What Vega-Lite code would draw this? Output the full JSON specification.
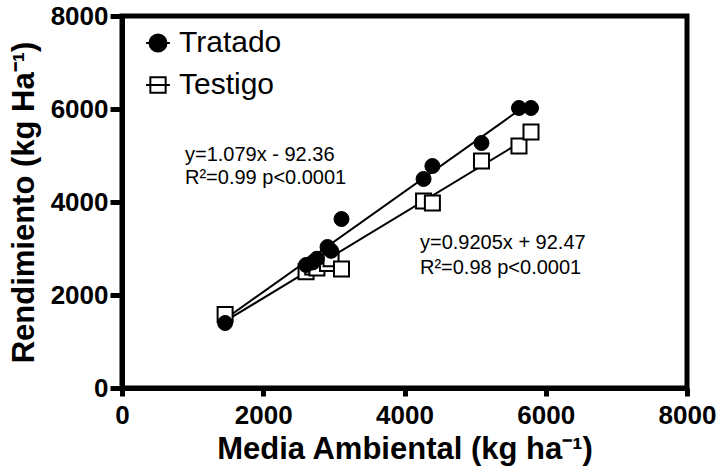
{
  "$schema": "https://vega.github.io/schema/vega-lite/v6.json",
  "width": 565,
  "height": 372,
  "autosize": "none",
  "padding": {"left": 122, "top": 16, "right": 33, "bottom": 85},
  "background": "white",
  "config": {
    "font": "Liberation Sans",
    "view": {"stroke": "black", "strokeWidth": 5},
    "legend": {
      "title": null,
      "orient": "none",
      "legendX": 21,
      "legendY": 12,
      "padding": 0,
      "symbolSize": 289,
      "symbolOpacity": 1,
      "symbolStrokeWidth": 2,
      "labelFont": "Liberation Sans",
      "labelFontSize": 30,
      "labelColor": "black",
      "labelOffset": 6,
      "rowPadding": 12,
      "labelLimit": 300
    },
    "axis": {
      "grid": false,
      "domainColor": "black",
      "domainWidth": 5,
      "tickColor": "black",
      "tickWidth": 5,
      "labelFont": "Liberation Sans",
      "labelFontWeight": "bold",
      "labelFontSize": 26,
      "labelColor": "black",
      "labelFlush": false,
      "labelOverlap": false,
      "format": "d",
      "titleFont": "Liberation Sans",
      "titleFontWeight": "bold",
      "titleFontSize": 31,
      "titleColor": "black"
    }
  },
  "datasets": {
    "points": [
      {"x": 1460, "y": 1398, "series": "Tratado"},
      {"x": 2606, "y": 2645, "series": "Tratado"},
      {"x": 2700, "y": 2700, "series": "Tratado"},
      {"x": 2760, "y": 2780, "series": "Tratado"},
      {"x": 2910, "y": 3032, "series": "Tratado"},
      {"x": 2960, "y": 2950, "series": "Tratado"},
      {"x": 3108, "y": 3634, "series": "Tratado"},
      {"x": 4270, "y": 4495, "series": "Tratado"},
      {"x": 4395, "y": 4774, "series": "Tratado"},
      {"x": 5090, "y": 5269, "series": "Tratado"},
      {"x": 5621, "y": 6022, "series": "Tratado"},
      {"x": 5791, "y": 6022, "series": "Tratado"},
      {"x": 1460, "y": 1580, "series": "Testigo"},
      {"x": 2606, "y": 2500, "series": "Testigo"},
      {"x": 2700, "y": 2600, "series": "Testigo"},
      {"x": 2760, "y": 2580, "series": "Testigo"},
      {"x": 2910, "y": 2680, "series": "Testigo"},
      {"x": 2960, "y": 2780, "series": "Testigo"},
      {"x": 3108, "y": 2560, "series": "Testigo"},
      {"x": 4270, "y": 4022, "series": "Testigo"},
      {"x": 4395, "y": 3978, "series": "Testigo"},
      {"x": 5090, "y": 4882, "series": "Testigo"},
      {"x": 5621, "y": 5204, "series": "Testigo"},
      {"x": 5791, "y": 5505, "series": "Testigo"}
    ],
    "fits": [
      {"x": 1460, "y": 1483, "series": "Tratado"},
      {"x": 5791, "y": 6156, "series": "Tratado"},
      {"x": 1460, "y": 1436, "series": "Testigo"},
      {"x": 5791, "y": 5423, "series": "Testigo"}
    ],
    "notes": [
      {"x": 892, "y": 5011, "label": "y=1.079x - 92.36"},
      {"x": 892, "y": 4516, "label": "R²=0.99 p<0.0001"},
      {"x": 4219, "y": 3118, "label": "y=0.9205x + 92.47"},
      {"x": 4219, "y": 2581, "label": "R²=0.98 p<0.0001"}
    ]
  },
  "encoding": {
    "x": {
      "field": "x",
      "type": "quantitative",
      "scale": {"domain": [0, 8000], "nice": false, "zero": false},
      "axis": {
        "values": [0, 2000, 4000, 6000, 8000],
        "tickSize": 8,
        "labelPadding": 6,
        "title": "Media Ambiental (kg ha⁻¹)",
        "titlePadding": 6
      }
    },
    "y": {
      "field": "y",
      "type": "quantitative",
      "scale": {"domain": [0, 8000], "nice": false, "zero": false},
      "axis": {
        "values": [0, 2000, 4000, 6000, 8000],
        "tickSize": 12,
        "labelPadding": 2,
        "title": "Rendimiento (kg Ha⁻¹)",
        "titlePadding": 10
      }
    }
  },
  "layer": [
    {
      "data": {"name": "fits"},
      "mark": {"type": "line", "color": "black", "strokeWidth": 2},
      "encoding": {"detail": {"field": "series"}}
    },
    {
      "data": {"name": "points"},
      "mark": {"type": "point", "filled": true, "strokeWidth": 2, "opacity": 0},
      "encoding": {
        "shape": {
          "field": "series",
          "type": "nominal",
          "sort": ["Tratado", "Testigo"],
          "scale": {
            "domain": ["Tratado", "Testigo"],
            "range": [
              "M-1.4,0H1.4M-1,0A1,1 0 1,0 1,0A1,1 0 1,0 -1,0Z",
              "M-1.4,0H1.4M-0.9,-0.9H0.9V0.9H-0.9Z"
            ]
          }
        },
        "fill": {
          "field": "series",
          "type": "nominal",
          "sort": ["Tratado", "Testigo"],
          "scale": {"domain": ["Tratado", "Testigo"], "range": ["black", "white"]}
        },
        "stroke": {
          "field": "series",
          "type": "nominal",
          "sort": ["Tratado", "Testigo"],
          "scale": {"domain": ["Tratado", "Testigo"], "range": ["black", "black"]}
        }
      }
    },
    {
      "data": {"name": "points"},
      "transform": [{"filter": "datum.series == 'Testigo'"}],
      "mark": {"type": "point", "shape": "square", "size": 225, "filled": true, "fill": "white", "stroke": "black", "strokeWidth": 2, "opacity": 1}
    },
    {
      "data": {"name": "points"},
      "transform": [{"filter": "datum.series == 'Tratado'"}],
      "mark": {"type": "point", "shape": "circle", "size": 225, "filled": true, "fill": "black", "stroke": "black", "strokeWidth": 1, "opacity": 1}
    },
    {
      "data": {"name": "notes"},
      "mark": {"type": "text", "align": "left", "baseline": "middle", "fontSize": 20, "font": "Liberation Sans", "color": "black"},
      "encoding": {"text": {"field": "label"}}
    }
  ]
}
